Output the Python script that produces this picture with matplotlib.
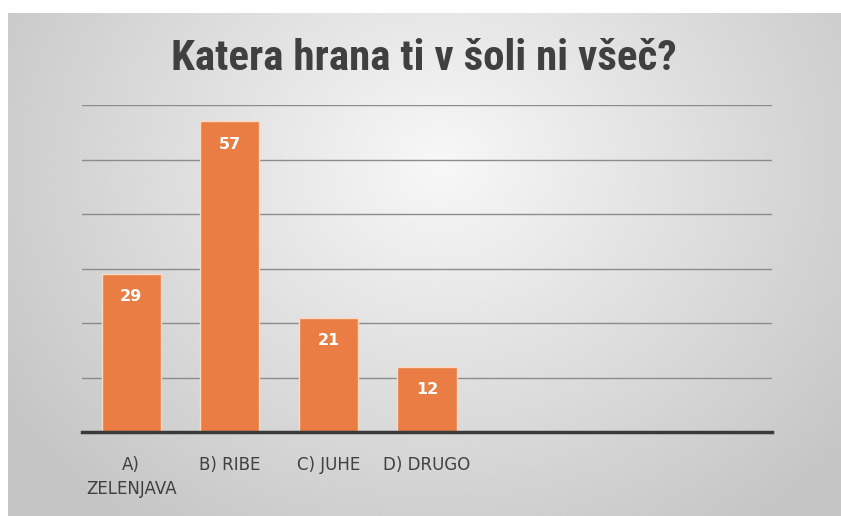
import numpy as np
import matplotlib.pyplot as plt
from matplotlib import font_manager

categories = ['A)\nZELENJAVA', 'B) RIBE', 'C) JUHE', 'D) DRUGO', '', '', '']
values = [29, 57, 21, 12, None, None, None]
yticks = [0, 10, 20, 30, 40, 50, 60]

names = {f.name for f in font_manager.fontManager.ttflist}
title_font = 'DejaVu Sans'
for cand in ['Roboto Condensed', 'Fira Sans Condensed', 'Archivo Narrow',
             'PT Sans Narrow', 'Barlow Condensed', 'Oswald']:
    if cand in names:
        title_font = cand
        break

W, H = 841, 516
fig = plt.figure(figsize=(W / 100, H / 100), dpi=100)
fig.patch.set_facecolor('white')

# gray radial gradient panel
bg = fig.add_axes([8 / W, 0, 1 - 8 / W, 1 - 13 / H])
yy, xx = np.mgrid[0:1:300j, 0:1:500j]
r = np.sqrt(((xx - 0.52) / 0.7) ** 2 + ((yy - 0.3) / 1.0) ** 2)
shade = np.clip(0.97 - 0.22 * r, 0.77, 0.97)
bg.imshow(shade, cmap='gray', vmin=0, vmax=1, aspect='auto',
          extent=[0, 1, 1, 0], interpolation='bicubic')
bg.axis('off')

ax = fig.add_axes([82 / W, 1 - 432 / H, (772 - 82) / W, (432 - 105) / H])
ax.patch.set_alpha(0)
x = np.arange(len(categories))
heights = [v if v is not None else 0 for v in values]
ax.bar(x, heights, width=0.6, color='#E97D43', edgecolor='#FBD9C2',
       linewidth=1.0, zorder=3)
for xi, v in zip(x, values):
    if v is not None:
        ax.text(xi, v - 4.2, str(v), ha='center', va='center', color='white',
                fontsize=11.5, fontweight='bold', zorder=4)

ax.set_xlim(-0.5, len(categories) - 0.5)
ax.set_ylim(0, 60)
ax.set_yticks(yticks)
ax.set_yticklabels([])
ax.grid(axis='y', color='#8c8c8c', linewidth=1.0, zorder=0)
ax.set_xticks(x)
ax.set_xticklabels(categories, fontsize=12, color='#404040', linespacing=1.45)
ax.tick_params(axis='both', length=0, pad=17)
for s in ['top', 'right', 'left']:
    ax.spines[s].set_visible(False)
ax.spines['bottom'].set_color('#3a3a3a')
ax.spines['bottom'].set_linewidth(2.5)
ax.spines['bottom'].set_zorder(5)

fig.text(424 / W, 1 - 58 / H, 'Katera hrana ti v šoli ni všeč?', ha='center',
         va='center', fontsize=31, fontweight='bold', family=title_font,
         color='#404040')

fig.savefig('out.png', dpi=100)
